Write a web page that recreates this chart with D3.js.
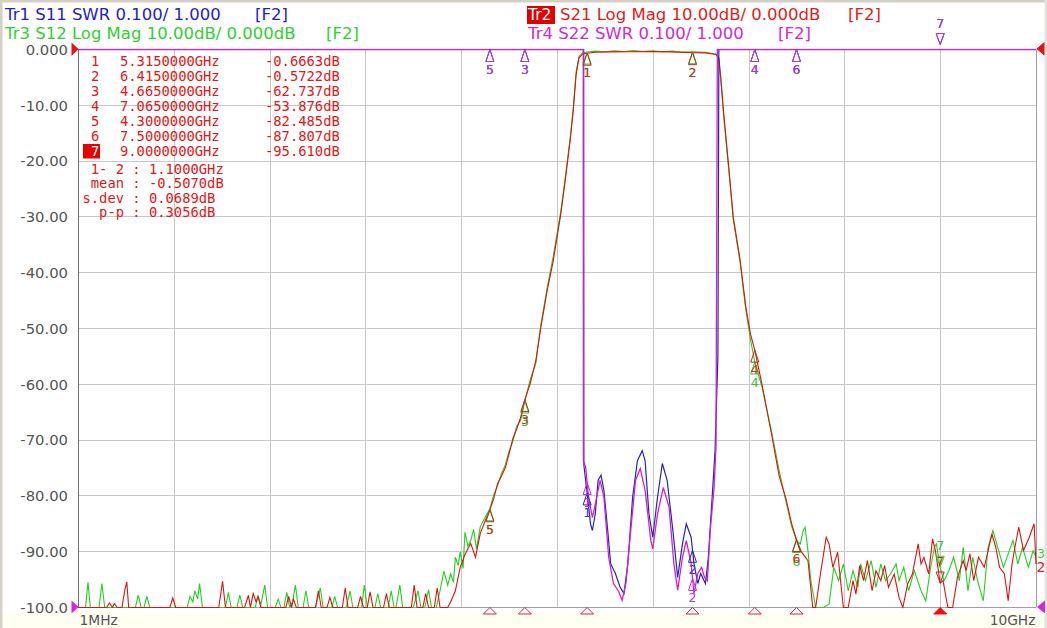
<!DOCTYPE html>
<html><head><meta charset="utf-8">
<script src="https://cdn.jsdelivr.net/npm/d3@7"></script>
<style>
html,body{margin:0;padding:0;background:#fff;overflow:hidden}
svg{display:block}
text{font-family:"DejaVu Sans",Verdana,sans-serif}
.mono text{font-family:"DejaVu Sans Mono",monospace;white-space:pre}
</style></head><body>
<svg id="c" width="1047" height="628"></svg>
<script>
// ---------------- data ----------------
const xTickValues = [0.001, 10];
const xTickLabels = ["1MHz", "10GHz"];
const yTicks = [0, -10, -20, -30, -40, -50, -60, -70, -80, -90, -100];
const yTickLabels = ["0.000", "-10.00", "-20.00", "-30.00", "-40.00", "-50.00", "-60.00", "-70.00", "-80.00", "-90.00", "-100.0"];

const markerIds = ["1", "2", "3", "4", "5", "6", "7"];
const markerFreqs = [5.315, 6.415, 4.665, 7.065, 4.300, 7.500, 9.000];
const markerFreqText = ["5.3150000GHz", "6.4150000GHz", "4.6650000GHz", "7.0650000GHz", "4.3000000GHz", "7.5000000GHz", "9.0000000GHz"];
const markerValText = ["-0.6663dB", "-0.5722dB", "-62.737dB", "-53.876dB", "-82.485dB", "-87.807dB", "-95.610dB"];
const statsText = [" 1- 2 : 1.1000GHz", " mean : -0.5070dB", "s.dev : 0.0689dB", "  p-p : 0.3056dB"];

// S21 Log Mag [GHz, dB]
const s21 = [[0.001,-100],[0.30,-100],[0.33,-99.2],[0.36,-100],[0.38,-99.3],[0.41,-100],[0.46,-100],[0.49,-96.8],[0.51,-95.4],[0.53,-100],
[0.96,-100],[0.99,-98.3],[1.02,-100],[1.47,-100],[1.51,-95.3],[1.54,-100],[1.74,-100],[1.78,-97.8],[1.80,-100],[1.83,-97.5],[1.86,-99.0],[1.88,-98.0],[1.91,-100],
[2.17,-100],[2.20,-98.0],[2.23,-100],[2.25,-98.5],[2.28,-100],[2.48,-100],[2.51,-97.0],[2.54,-100],[2.60,-100],[2.63,-98.2],[2.66,-100],[2.76,-100],[2.79,-96.5],[2.82,-100],
[2.92,-100],[2.95,-98.0],[2.98,-100],[3.02,-100],[3.05,-97.2],[3.08,-100],[3.19,-100],[3.22,-97.5],[3.25,-100],[3.48,-100],[3.51,-96.0],[3.54,-100],[3.60,-100],[3.63,-97.5],[3.66,-100],
[3.72,-100],[3.75,-96.5],[3.78,-100],[3.86,-100],[3.89,-99.0],[3.94,-97.0],[3.99,-92.8],[4.04,-90.5],[4.10,-88.5],[4.15,-91.0],[4.20,-86.7],[4.25,-84.5],[4.30,-82.485],
[4.34,-80.5],[4.38,-77.8],[4.42,-76.5],[4.46,-75.0],[4.50,-72.5],[4.54,-69.7],[4.58,-68.0],[4.62,-66.0],[4.665,-62.737],[4.72,-59.9],[4.78,-55.7],[4.83,-50.0],[4.90,-43.0],
[4.96,-38.0],[5.04,-29.5],[5.09,-23.0],[5.14,-16.0],[5.17,-11.0],[5.20,-4.5],[5.23,-1.5],[5.27,-0.8],[5.315,-0.6663],[5.40,-0.5],[5.56,-0.42],[5.77,-0.4],[5.98,-0.38],
[6.19,-0.42],[6.415,-0.5722],[6.55,-0.6],[6.61,-0.75],[6.66,-0.9],[6.69,-1.5],[6.71,-5.0],[6.74,-11.3],[6.79,-20.5],[6.84,-30.0],[6.91,-37.5],[6.97,-46.0],[7.02,-51.0],
[7.065,-53.876],[7.14,-60.0],[7.24,-69.0],[7.32,-76.5],[7.39,-80.5],[7.45,-85.0],[7.50,-87.807],[7.55,-90.0],[7.62,-91.6],[7.67,-100],[7.70,-100],[7.75,-94.0],[7.81,-87.4],
[7.84,-88.6],[7.88,-92.8],[7.93,-90.1],[7.96,-95.2],[7.99,-100],[8.04,-100],[8.09,-95.2],[8.12,-97.6],[8.16,-92.5],[8.20,-95.2],[8.24,-91.6],[8.29,-97.0],[8.33,-93.4],
[8.38,-95.2],[8.42,-92.5],[8.46,-96.4],[8.52,-94.0],[8.57,-98.2],[8.61,-100],[8.66,-95.8],[8.71,-94.0],[8.77,-88.6],[8.80,-92.2],[8.83,-91.0],[8.88,-94.0],[8.92,-87.7],
[8.95,-89.8],[9.00,-95.61],[9.03,-95.2],[9.08,-100],[9.13,-100],[9.18,-94.6],[9.24,-91.6],[9.27,-93.4],[9.31,-90.4],[9.35,-95.2],[9.40,-91.0],[9.46,-92.8],[9.50,-89.8],
[9.54,-86.8],[9.58,-89.2],[9.62,-92.8],[9.67,-94.0],[9.71,-98.8],[9.75,-92.2],[9.78,-89.2],[9.82,-85.6],[9.87,-89.8],[9.93,-87.4],[9.98,-85.0],[10.0,-92.2]];

// S12 Log Mag [GHz, dB]
const s12 = [[0.001,-100],[0.08,-100],[0.105,-95.5],[0.13,-100],[0.22,-100],[0.25,-95.7],[0.28,-100],[0.60,-100],[0.63,-97.8],[0.66,-100],[0.69,-100],[0.72,-98.0],[0.75,-100],
[1.14,-100],[1.17,-98.0],[1.20,-99.0],[1.22,-97.0],[1.25,-98.5],[1.27,-95.7],[1.30,-100],[1.54,-100],[1.57,-97.3],[1.60,-100],[1.66,-100],[1.69,-97.8],[1.72,-100],
[1.85,-100],[1.88,-98.0],[1.91,-99.5],[1.95,-96.0],[1.98,-100],[2.06,-100],[2.09,-98.5],[2.12,-100],[2.15,-100],[2.18,-97.3],[2.21,-100],[2.24,-99.0],[2.27,-96.0],[2.30,-100],
[2.35,-100],[2.38,-97.0],[2.41,-100],[2.48,-100],[2.53,-96.5],[2.56,-100],[2.65,-100],[2.68,-98.0],[2.71,-100],[2.80,-100],[2.84,-97.0],[2.87,-100],[2.96,-100],[2.99,-96.0],
[3.02,-100],[3.10,-100],[3.13,-97.5],[3.16,-100],[3.24,-100],[3.27,-97.0],[3.30,-100],[3.32,-100],[3.36,-96.0],[3.39,-100],[3.50,-100],[3.55,-97.0],[3.58,-100],[3.62,-100],
[3.66,-96.8],[3.69,-100],[3.74,-100],[3.78,-97.0],[3.82,-93.5],[3.86,-96.0],[3.89,-94.0],[3.92,-95.5],[3.94,-91.0],[3.97,-92.5],[3.99,-90.0],[4.02,-93.0],[4.04,-86.5],
[4.07,-89.0],[4.10,-88.0],[4.13,-86.0],[4.16,-89.5],[4.20,-85.5],[4.26,-83.5],[4.30,-82.3],[4.34,-79.8],[4.38,-78.2],[4.42,-76.0],[4.46,-74.5],[4.50,-72.0],[4.54,-70.2],
[4.58,-67.5],[4.62,-66.5],[4.665,-63.0],[4.72,-59.2],[4.78,-56.2],[4.83,-49.5],[4.90,-42.5],[4.96,-37.2],[5.04,-29.0],[5.09,-22.5],[5.14,-15.5],[5.17,-10.5],[5.20,-4.0],
[5.23,-1.2],[5.27,-0.6],[5.315,-0.45],[5.40,-0.3],[5.50,-0.4],[5.60,-0.25],[5.70,-0.35],[5.80,-0.2],[5.90,-0.35],[6.00,-0.25],[6.10,-0.4],[6.20,-0.3],[6.30,-0.45],
[6.415,-0.4],[6.55,-0.5],[6.61,-0.7],[6.66,-0.8],[6.69,-1.8],[6.71,-5.5],[6.74,-12.0],[6.79,-21.0],[6.84,-30.5],[6.91,-38.0],[6.97,-46.5],[7.02,-52.0],[7.065,-56.0],
[7.14,-60.5],[7.24,-68.5],[7.32,-75.5],[7.39,-81.0],[7.45,-85.5],[7.50,-88.0],[7.54,-88.6],[7.57,-86.2],[7.59,-85.6],[7.62,-89.8],[7.65,-95.2],[7.70,-100],[7.78,-100],
[7.84,-99.4],[7.89,-92.8],[7.94,-95.2],[7.99,-92.2],[8.04,-97.0],[8.09,-93.4],[8.14,-96.4],[8.17,-92.2],[8.22,-95.2],[8.28,-91.6],[8.33,-96.4],[8.38,-92.2],[8.43,-95.2],
[8.48,-94.0],[8.54,-92.2],[8.57,-95.2],[8.62,-92.8],[8.67,-97.0],[8.73,-93.4],[8.80,-97.0],[8.85,-98.8],[8.90,-92.8],[8.94,-89.2],[8.96,-88.6],[9.00,-92.8],[9.04,-95.2],
[9.09,-93.4],[9.14,-91.0],[9.20,-95.2],[9.24,-89.2],[9.29,-97.0],[9.34,-91.0],[9.39,-95.2],[9.45,-98.8],[9.50,-89.2],[9.55,-86.2],[9.60,-89.2],[9.66,-92.8],[9.71,-90.4],
[9.76,-88.0],[9.81,-92.2],[9.86,-89.2],[9.92,-92.8],[9.97,-89.8],[10.0,-91.0]];

// S11 SWR [GHz, SWR]  (off-scale values above 2.0 sit on the top edge)
const s11 = [[0.001,2.6],[5.279,2.6],[5.281,1.255],[5.32,1.198],[5.35,1.15],[5.37,1.138],[5.40,1.168],[5.43,1.228],[5.46,1.237],[5.49,1.21],[5.53,1.138],[5.56,1.079],
[5.61,1.061],[5.66,1.036],[5.70,1.025],[5.74,1.079],[5.79,1.198],[5.84,1.263],[5.89,1.281],[5.92,1.263],[5.96,1.168],[6.00,1.126],[6.05,1.198],[6.10,1.258],[6.15,1.228],
[6.21,1.138],[6.26,1.054],[6.31,1.114],[6.35,1.15],[6.40,1.126],[6.43,1.079],[6.47,1.043],[6.50,1.061],[6.55,1.043],[6.58,1.09],[6.62,1.198],[6.65,1.281],[6.68,1.45],
[6.69,2.6],[10.0,2.6]];

// S22 SWR [GHz, SWR]
const s22 = [[0.001,2.6],[5.274,2.6],[5.276,1.263],[5.30,1.251],[5.33,1.197],[5.37,1.161],[5.40,1.185],[5.45,1.228],[5.49,1.198],[5.54,1.09],[5.59,1.043],[5.64,1.03],
[5.68,1.013],[5.72,1.043],[5.77,1.138],[5.82,1.228],[5.87,1.249],[5.92,1.21],[5.98,1.12],[6.00,1.105],[6.05,1.168],[6.11,1.215],[6.17,1.18],[6.22,1.079],[6.26,1.031],
[6.31,1.09],[6.35,1.12],[6.40,1.079],[6.43,1.025],[6.47,1.061],[6.51,1.072],[6.54,1.054],[6.57,1.048],[6.60,1.138],[6.64,1.215],[6.66,1.287],[6.674,2.6],[10.0,2.6]];

// ---------------- drawing ----------------
const C = {blue:"#2424b8", red:"#e01010", green:"#22d022", mag:"#d020d0",
           tBlue:"#2222c8", tRed:"#e01c1c", tGreen:"#30d030", tMag:"#d02ad0"};
const svg = d3.select("#c");
const P = {left:78, right:1036, top:49.5, bottom:607.5};
const x = d3.scaleLinear().domain([0.001, 10]).range([P.left, P.right]);
const yDb = d3.scaleLinear().domain([-100, 0]).range([P.bottom, P.top]).clamp(true);
const ySwr = d3.scaleLinear().domain([1, 2]).range([P.bottom, P.top]).clamp(true);

// window chrome
svg.append("rect").attr("x",0).attr("y",0).attr("width",1047).attr("height",628).attr("fill","#ffffff");
svg.append("rect").attr("x",0).attr("y",612).attr("width",1047).attr("height",16).attr("fill","#fffff2");
svg.append("rect").attr("x",0).attr("y",0).attr("width",1047).attr("height",2.5).attr("fill","#d4d0c8");
svg.append("rect").attr("x",0).attr("y",0).attr("width",2.5).attr("height",628).attr("fill","#d4d0c8");
svg.append("rect").attr("x",1044.5).attr("y",0).attr("width",2.5).attr("height",628).attr("fill","#e4e2dc");

// grid
const dom = x.domain();
const xGrid = d3.range(1, 10).map(i => dom[0] + i * (dom[1] - dom[0]) / 10);
const g = svg.append("g");
g.selectAll("line.v").data(xGrid).join("line")
  .attr("x1", d => Math.round(x(d)) + 0.5).attr("x2", d => Math.round(x(d)) + 0.5)
  .attr("y1", P.top).attr("y2", P.bottom).attr("stroke", "#c8c8c8").attr("stroke-width", 1);
g.selectAll("line.h").data(yTicks.slice(1, -1)).join("line")
  .attr("x1", P.left).attr("x2", P.right)
  .attr("y1", d => Math.floor(yDb(d)) + 0.5).attr("y2", d => Math.floor(yDb(d)) + 0.5)
  .attr("stroke", "#c8c8c8").attr("stroke-width", 1);
// frame
svg.append("line").attr("x1",P.left+0.5).attr("x2",P.left+0.5).attr("y1",P.top).attr("y2",P.bottom).attr("stroke","#707070");
svg.append("line").attr("x1",P.right+0.5).attr("x2",P.right+0.5).attr("y1",P.top).attr("y2",P.bottom).attr("stroke","#a0a0a0");
svg.append("line").attr("x1",P.left).attr("x2",P.right).attr("y1",P.bottom).attr("y2",P.bottom).attr("stroke","#a0a0a0");

// y axis labels
const yAx = svg.append("g").attr("transform", `translate(${P.left},0)`)
  .call(d3.axisLeft(yDb).tickValues(yTicks).tickFormat((d, i) => yTickLabels[i]).tickSize(0).tickPadding(10));
yAx.select(".domain").remove();
yAx.selectAll("text").attr("font-size", "14.8px").attr("fill", "#555555")
  .attr("font-family", '"DejaVu Sans",sans-serif');

// x axis labels
const xAx = svg.append("g").attr("transform", `translate(0,${P.bottom})`)
  .call(d3.axisBottom(x).tickValues(xTickValues).tickFormat((d, i) => xTickLabels[i]).tickSize(0).tickPadding(8));
xAx.select(".domain").remove();
xAx.selectAll("text").attr("font-size", "13.8px").attr("fill", "#555555")
  .attr("font-family", '"DejaVu Sans",sans-serif')
  .attr("text-anchor", (d, i) => i === 0 ? "start" : "end")
  .attr("dx", (d, i) => i === 0 ? "1" : "-1");

// traces
svg.append("defs").append("clipPath").attr("id", "pc")
  .append("rect").attr("x", P.left).attr("y", P.top - 1).attr("width", P.right - P.left + 1).attr("height", P.bottom - P.top + 2);
const lineDb = d3.line().x(d => x(d[0])).y(d => yDb(d[1]));
const lineSwr = d3.line().x(d => x(d[0])).y(d => ySwr(d[1]));
const tr = svg.append("g").attr("clip-path", "url(#pc)");
tr.append("path").datum(s12).attr("d", lineDb).attr("fill", "none").attr("stroke", C.green).attr("stroke-width", 1.1);
tr.append("path").datum(s21).attr("d", lineDb).attr("fill", "none").attr("stroke", C.red).attr("stroke-width", 1.1);
tr.append("path").datum(s11).attr("d", lineSwr).attr("fill", "none").attr("stroke", C.blue).attr("stroke-width", 1.2);
tr.append("path").datum(s22).attr("d", lineSwr).attr("fill", "none").attr("stroke", C.mag).attr("stroke-width", 1.3);

// interpolation helper for marker readout
const bis = d3.bisector(d => d[0]).left;
function valAt(data, f) {
  const i = bis(data, f);
  if (i <= 0) return data[0][1];
  if (i >= data.length) return data[data.length - 1][1];
  const a = data[i - 1], b = data[i];
  if (b[0] === a[0]) return b[1];
  return a[1] + (b[1] - a[1]) * (f - a[0]) / (b[0] - a[0]);
}

const mk = svg.append("g");
function drawMarkers(data, yScale, stroke, textCol, labelGap) {
  markerFreqs.forEach((f, i) => {
    const mx = x(f);
    const v = valAt(data, f);
    const raw = yScale.copy().clamp(false)(v);
    let my = yScale(v);
    const active = i === 6;
    if (!active) {
      mk.append("path").attr("d", `M${mx},${my}L${mx - 4},${my + 12}L${mx + 4},${my + 12}Z`)
        .attr("fill", "none").attr("stroke", stroke).attr("stroke-width", 1);
      mk.append("text").attr("x", mx).attr("y", my + labelGap).attr("text-anchor", "middle")
        .attr("font-size", "12.5px").attr("fill", textCol).text(markerIds[i]);
    } else {
      if (raw < P.top) my = P.top - 5;
      mk.append("path").attr("d", `M${mx},${my}L${mx - 4},${my - 11}L${mx + 4},${my - 11}Z`)
        .attr("fill", "none").attr("stroke", stroke).attr("stroke-width", 1);
      mk.append("text").attr("x", mx).attr("y", my - 17).attr("text-anchor", "middle")
        .attr("font-size", "12.5px").attr("fill", textCol).text(markerIds[i]);
    }
  });
}
drawMarkers(s11, ySwr, C.blue, "#3a3ad0", 24);
drawMarkers(s22, ySwr, "#c030d8", "#b038d8", 24);
drawMarkers(s12, yDb, C.green, "#30c030", 25);
drawMarkers(s21, yDb, "#c02818", "#c83018", 24);

// stimulus markers under the axis
markerFreqs.forEach((f, i) => {
  const mx = x(f);
  svg.append("path").attr("d", `M${mx},${P.bottom}L${mx - 6.5},${P.bottom + 6.5}L${mx + 6.5},${P.bottom + 6.5}Z`)
    .attr("fill", i === 6 ? "#ee1010" : "none").attr("stroke", i === 6 ? "#ee1010" : "#e0204a").attr("stroke-width", 1);
});

// reference position triangles
function tri(pts, col) { svg.append("path").attr("d", "M" + pts.map(p => p.join(",")).join("L") + "Z").attr("fill", col); }
tri([[71.5, 42.5], [71.5, 56], [78.5, 49]], "#ee1010");
tri([[71.5, 600.5], [71.5, 613.5], [78.5, 607]], "#e020e0");
tri([[1044, 42.5], [1044, 55], [1037, 48.5]], C.blue);
tri([[1044.5, 42], [1044.5, 55.5], [1036.5, 49]], "#ee1010");
tri([[1045, 600.5], [1045, 613.5], [1037, 607]], "#e020e0");

// trace number tags at the right edge
svg.append("text").attr("x", 1037).attr("y", 558).attr("font-size", "12.5px").attr("fill", C.tGreen).text("3");
svg.append("text").attr("x", 1036.5).attr("y", 572).attr("font-size", "14px").attr("fill", C.tRed).text("2");

// header
const hdr = svg.append("g").attr("font-size", "16.5px");
hdr.append("text").attr("x", 5).attr("y", 20).attr("fill", C.tBlue).text("Tr1 S11 SWR 0.100/ 1.000");
hdr.append("text").attr("x", 255).attr("y", 20).attr("fill", C.tBlue).text("[F2]");
hdr.append("text").attr("x", 5).attr("y", 38.5).attr("fill", C.tGreen).text("Tr3 S12 Log Mag 10.00dB/ 0.000dB");
hdr.append("text").attr("x", 326).attr("y", 38.5).attr("fill", C.tGreen).text("[F2]");
hdr.append("rect").attr("x", 527).attr("y", 6).attr("width", 28).attr("height", 18).attr("fill", "#e00000");
hdr.append("text").attr("x", 528).attr("y", 20).attr("fill", "#ffffff").attr("font-size", "15.5px").text("Tr2");
hdr.append("text").attr("x", 560).attr("y", 20).attr("fill", C.tRed).text("S21 Log Mag 10.00dB/ 0.000dB");
hdr.append("text").attr("x", 848).attr("y", 20).attr("fill", C.tRed).text("[F2]");
hdr.append("text").attr("x", 528).attr("y", 38.5).attr("fill", C.tMag).text("Tr4 S22 SWR 0.100/ 1.000");
hdr.append("text").attr("x", 778).attr("y", 38.5).attr("fill", C.tMag).text("[F2]");

// marker table
const tb = svg.append("g").attr("class", "mono").attr("font-size", "13.8px").attr("fill", "#e01818");
markerIds.forEach((id, i) => {
  const by = 66 + i * 15;
  if (i === 6) {
    tb.append("rect").attr("x", 83).attr("y", by - 12).attr("width", 17).attr("height", 14.5).attr("fill", "#e80000");
    tb.append("text").attr("x", 91).attr("y", by).attr("fill", "#ffffff").text(id);
  } else {
    tb.append("text").attr("x", 91).attr("y", by).text(id);
  }
  tb.append("text").attr("x", 120).attr("y", by).text(markerFreqText[i]);
  tb.append("text").attr("x", 265).attr("y", by).text(markerValText[i]);
});
statsText.forEach((s, i) => {
  tb.append("text").attr("x", 82.5).attr("y", 173.5 + i * 14.5).attr("xml:space", "preserve").text(s);
});
</script>
</body></html>
